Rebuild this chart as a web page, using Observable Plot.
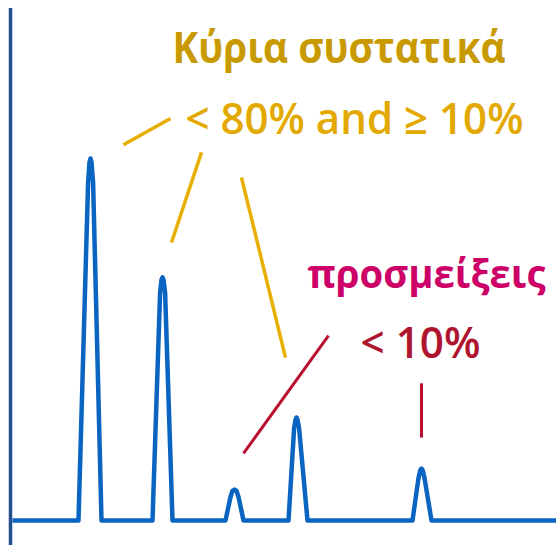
<!DOCTYPE html>
<html><head><meta charset="utf-8">
<script src="https://cdn.jsdelivr.net/npm/d3@7"></script>
<script src="https://cdn.jsdelivr.net/npm/@observablehq/plot@0.6"></script>
<style>html,body{margin:0;padding:0;background:#fff;overflow:hidden;}</style>
</head><body><div id="chart"></div>
<script>
// Chromatogram trace (time, signal)
const traceTime   = [0,
  3.3, 3.78, 3.85, 3.9, 3.95, 4.03, 4.45,
  7.0, 7.38, 7.45, 7.5, 7.55, 7.63, 8.0,
  10.65, 10.9, 11.0, 11.1, 11.2, 11.3, 11.55,
  13.8, 14.08, 14.15, 14.2, 14.25, 14.33, 14.75,
  20.0, 20.3, 20.39, 20.45, 20.51, 20.6, 20.95,
  27.2];
const traceSignal = [0,
  0, 66, 70, 70.7, 70, 66, 0,
  0, 44.5, 47, 47.5, 47, 44.5, 0,
  0, 4.6, 5.8, 6.05, 5.8, 4.6, 0,
  0, 18.0, 19.7, 20.1, 19.7, 18.0, 0,
  0, 8.3, 9.8, 10.15, 9.8, 8.3, 0,
  0];

// Leader lines for the main components
const goldX1 = [5.55, 9.45, 11.45];
const goldY1 = [73.4, 71.9, 67.0];
const goldX2 = [7.9, 7.95, 13.65];
const goldY2 = [78.5, 54.3, 31.8];

// Leader lines for the impurities
const redX1 = [15.8, 20.45];
const redY1 = [36.1, 26.8];
const redX2 = [11.55, 20.45];
const redY2 = [13.1, 16.2];

// Labels
const labelText   = ["Κύρια συστατικά", "< 80% and ≥ 10%", "προσμείξεις", "< 10%"];
const labelTime   = [8.0, 8.65, 14.75, 17.4];
const labelSignal = [89.45, 75.4, 45.5, 31.8];

// Axis line extent
const axisTime = -0.1;
const axisSignal = [-5, 100];

const trace = traceTime.map((t, i) => ({t, s: traceSignal[i]}));
const gold = goldX1.map((x, i) => ({x1: x, y1: goldY1[i], x2: goldX2[i], y2: goldY2[i]}));
const red = redX1.map((x, i) => ({x1: x, y1: redY1[i], x2: redX2[i], y2: redY2[i]}));
const labels = labelText.map((text, i) => ({text, t: labelTime[i], s: labelSignal[i]}));

const labelStyle = [
  {fill: "#C99A00", fontWeight: "bold", fontSize: 43, width: 333},
  {fill: "#E3A900", fontWeight: 600, fontSize: 43, width: 338},
  {fill: "#CC0066", fontWeight: "bold", fontSize: 40, width: 238},
  {fill: "#B0152F", fontWeight: 600, fontSize: 44, width: 120}
];

const chart = Plot.plot({
  width: 556,
  height: 545,
  margin: 0,
  x: {domain: [-0.6, 27.2], axis: null},
  y: {domain: [-4.883, 101.5625], axis: null},
  style: {fontFamily: "'Open Sans', sans-serif", background: "#fff"},
  marks: [
    Plot.ruleX([axisTime], {y1: axisSignal[0], y2: axisSignal[1], stroke: "#234F8E", strokeWidth: 3.5}),
    Plot.line(trace, {x: "t", y: "s", stroke: "#0A64C2", strokeWidth: 4.5, strokeLinejoin: "round", strokeLinecap: "butt"}),
    Plot.link(gold, {x1: "x1", y1: "y1", x2: "x2", y2: "y2", stroke: "#E8AE00", strokeWidth: 3.5}),
    Plot.link(red, {x1: "x1", y1: "y1", x2: "x2", y2: "y2", stroke: "#B8102E", strokeWidth: 3}),
    ...labels.map((d, i) => Plot.text([d], {
      x: "t", y: "s", text: "text", textAnchor: "start", lineAnchor: "bottom",
      fill: labelStyle[i].fill, fontWeight: labelStyle[i].fontWeight, fontSize: labelStyle[i].fontSize
    }))
  ]
});
document.getElementById("chart").appendChild(chart);

// fit label widths to the reference
d3.select(chart).selectAll("text").each(function() {
  const i = labelText.indexOf(this.textContent);
  if (i >= 0) {
    this.setAttribute("textLength", labelStyle[i].width);
    this.setAttribute("lengthAdjust", "spacingAndGlyphs");
  }
});
</script>
</body></html>
